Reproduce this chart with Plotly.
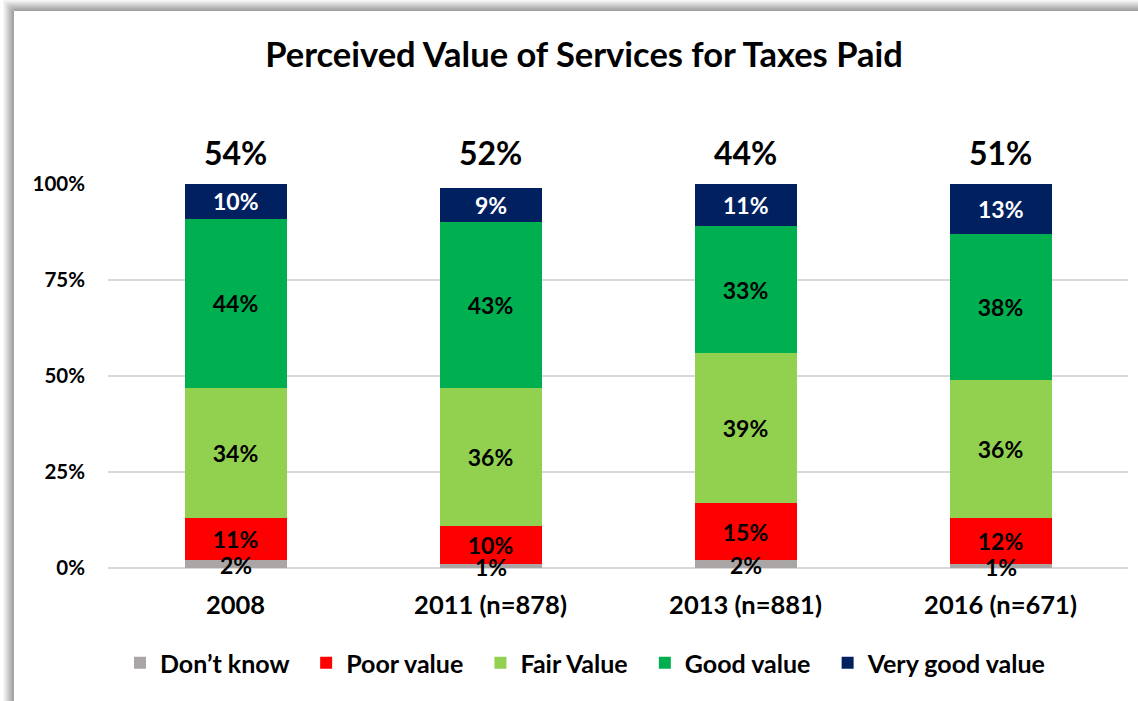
import plotly.graph_objects as go

categories = ["2008", "2011 (n=878)", "2013 (n=881)", "2016 (n=671)"]
dont_know = [2, 1, 2, 1]
poor_value = [11, 10, 15, 12]
fair_value = [34, 36, 39, 36]
good_value = [44, 43, 33, 38]
very_good_value = [10, 9, 11, 13]
top_labels = ["54%", "52%", "44%", "51%"]
y_ticks = [0, 25, 50, 75, 100]
y_tick_labels = ["0%", "25%", "50%", "75%", "100%"]

FONT = "Lato"
W, H = 1138, 701
ML, MR, MT, MB = 108, 10, 184, 133
PW = W - ML - MR
PH = H - MT - MB
Y_MAX = 100
PAD = "\u00a0\u00a0"  # extra spacing between legend entries


def px_x(px):
    return (px - ML) / PW


def px_y(py):
    return (H - MB - py) / PH


fig = go.Figure()

series = [
    ("Don\u2019t know", dont_know, "#ABA6A6", "black"),
    ("Poor value", poor_value, "#FF0000", "black"),
    ("Fair Value", fair_value, "#92D050", "black"),
    ("Good value", good_value, "#00B050", "black"),
    ("Very good value", very_good_value, "#002060", "white"),
]

LABEL_SIZE = 23
for name, vals, color, tcolor in series:
    own_label = name.startswith("Don") or name.startswith("Very")
    fig.add_trace(go.Bar(
        x=categories, y=vals, name=name + PAD,
        marker=dict(color=color, line=dict(width=0)),
        text=[f"{v}%" for v in vals],
        textposition="none" if own_label else "inside",
        insidetextanchor="middle",
        textangle=0,
        textfont=dict(family=FONT, size=LABEL_SIZE, color=tcolor, weight="bold"),
    ))

# annotation x positions: category index on the category axis
for i, v in enumerate(dont_know):
    # labels for the thin "Don't know" segments (around the baseline)
    fig.add_annotation(x=i, y=v / 2, xref="x", yref="y", text=f"<b>{v}%</b>",
                       showarrow=False, yshift=-1,
                       font=dict(family=FONT, size=LABEL_SIZE, color="black"))

for i in range(len(categories)):
    # labels for the top segments, centered on the visible (clipped) part
    base = dont_know[i] + poor_value[i] + fair_value[i] + good_value[i]
    top = min(base + very_good_value[i], Y_MAX)
    fig.add_annotation(x=i, y=(base + top) / 2, xref="x", yref="y",
                       text=f"<b>{very_good_value[i]}%</b>", showarrow=False,
                       font=dict(family=FONT, size=LABEL_SIZE, color="white"))

for i, lab in enumerate(top_labels):
    fig.add_annotation(x=i, y=px_y(153), xref="x", yref="paper", text=f"<b>{lab}</b>",
                       showarrow=False, font=dict(family=FONT, size=32, color="black"),
                       xanchor="center", yanchor="middle")

# frame with shadow (top and left edges)
shapes = []
shade = ["#F6F6F6", "#EEEEEE", "#E6E6E6", "#DDDDDD", "#D4D4D4", "#CBCBCB",
         "#C2C2C2", "#B9B9B9", "#B0B0B0", "#A8A8A8", "#A2A2A2"]
n = len(shade)
for i, c in enumerate(shade):
    off = n - 1 - i
    lx = 13.5 - off
    ty = 10.5 - off
    shapes.append(dict(type="line", xref="paper", yref="paper",
                       x0=px_x(lx), x1=px_x(lx), y0=px_y(ty), y1=px_y(H + 5),
                       line=dict(color=c, width=1)))
    shapes.append(dict(type="line", xref="paper", yref="paper",
                       x0=px_x(lx), x1=px_x(W + 5), y0=px_y(ty), y1=px_y(ty),
                       line=dict(color=c, width=1)))
fig.update_layout(shapes=shapes)

fig.update_layout(
    width=W, height=H,
    margin=dict(l=ML, r=MR, t=MT, b=MB, autoexpand=False),
    barmode="stack",
    bargap=0.6,
    paper_bgcolor="white",
    plot_bgcolor="white",
    title=dict(text="<b>Perceived Value of Services for Taxes Paid</b>",
               x=584 / W, xanchor="center", y=1 - 55 / H, yanchor="middle",
               font=dict(family=FONT, size=34.5, color="black")),
    xaxis=dict(type="category", categoryorder="array", categoryarray=categories,
               range=[-0.5, len(categories) - 0.5], autorange=False,
               showgrid=False, showline=False, ticks="",
               tickfont=dict(family=FONT, size=25.5, color="black", weight="bold"),
               ticklabelstandoff=19),
    yaxis=dict(range=[0, Y_MAX], autorange=False, tickvals=y_ticks, ticktext=y_tick_labels,
               showgrid=True, gridcolor="#D9D9D9", gridwidth=2,
               zeroline=True, zerolinecolor="#D9D9D9", zerolinewidth=2,
               showline=False, ticks="",
               tickfont=dict(family=FONT, size=20.5, color="black", weight="bold"),
               ticklabelstandoff=22),
    legend=dict(orientation="h", x=px_x(592), xanchor="center",
                y=px_y(663), yanchor="middle",
                font=dict(family=FONT, size=25, color="black", weight="bold"),
                traceorder="normal", itemclick=False),
    showlegend=True,
)

fig.write_html("out.html", config={"displayModeBar": False},
               post_script="document.body.style.margin='0';")
